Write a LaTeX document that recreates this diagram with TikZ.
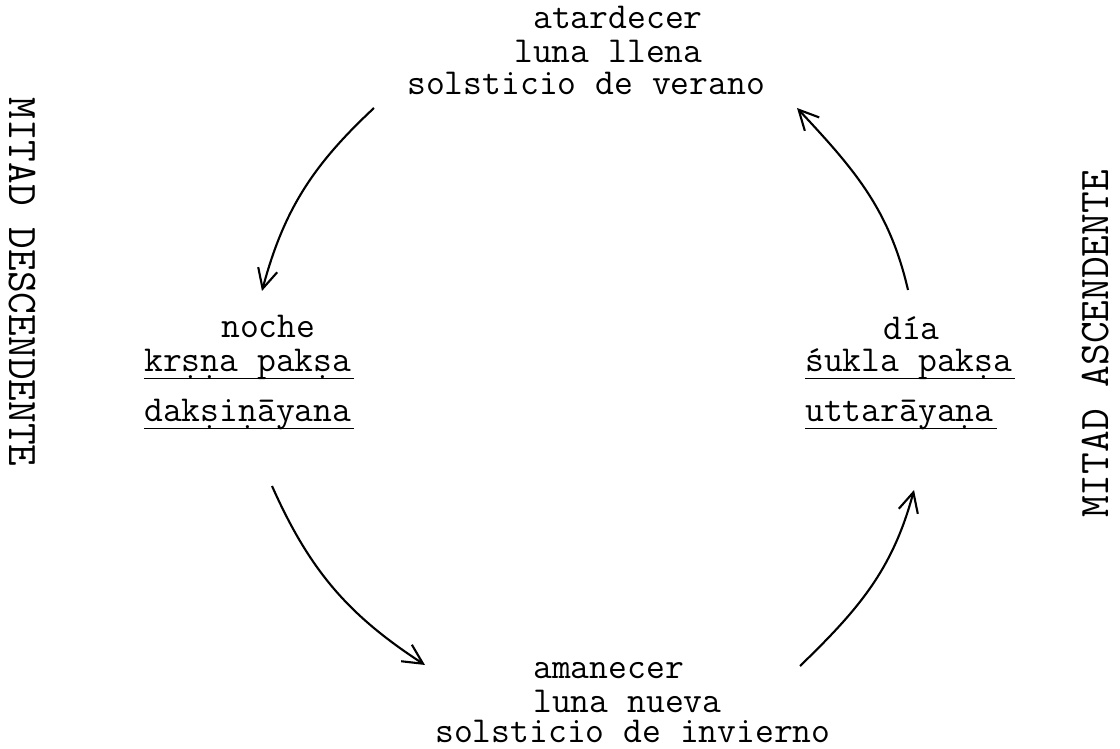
\documentclass[tikz,border=0pt]{standalone}
\usepackage{fontspec}
\usepackage{tikz}
\usetikzlibrary{arrows.meta}
\newcommand{\letramaq}{\ttfamily\fontsize{26}{30}\selectfont}
\newcommand{\letragrande}{\ttfamily\fontsize{30}{34}\selectfont}

\begin{document}
\begin{tikzpicture}[
  txt/.style={font=\letramaq, inner sep=0pt, anchor=base west},
  vert/.style={font=\letragrande, inner sep=0pt},
  subr/.style={line width=0.7pt},
  flecha/.style={line width=1.5pt, -{Straight Barb[length=14pt,width=14pt]}}]
\useasboundingbox (0,0) rectangle (28,18.7);
% arriba
\node[txt] (atardecer) at (13.325,17.975) {atardecer};
\node[txt] (llena) at (12.85,17.125) {luna llena};
\node[txt] (verano) at (10.175,16.325) {solsticio de verano};
% abajo
\node[txt] (amanecer) at (13.325,1.75) {amanecer};
\node[txt] (nueva) at (13.325,0.9) {luna nueva};
\node[txt] (invierno) at (10.875,0.15) {solsticio de invierno};
% izquierda
\node[txt] (noche) at (5.525,10.25) {noche};
\node[txt] (krsna) at (3.6,9.4) {krṣṇa pakṣa};
\node[txt] (daksina) at (3.6,8.15) {dakṣiṇāyana};
\draw[subr] ([yshift=-4.3pt]krsna.base west) -- ([yshift=-4.3pt,xshift=2pt]krsna.base east);
\draw[subr] ([yshift=-4.3pt]daksina.base west) -- ([yshift=-4.3pt,xshift=2pt]daksina.base east);
% derecha
\node[txt] (dia) at (22.075,10.2) {día};
\node[txt] (sukla) at (20.125,9.4) {śukla pakṣa};
\node[txt] (uttara) at (20.125,8.15) {uttarāyaṇa};
\draw[subr] ([yshift=-4.3pt]sukla.base west) -- ([yshift=-4.3pt,xshift=2pt]sukla.base east);
\draw[subr] ([yshift=-4.3pt]uttara.base west) -- ([yshift=-4.3pt,xshift=2pt]uttara.base east);
% mitades
\node[vert,rotate=-90] (desc) at (0.55,11.65) {MITAD DESCENDENTE};
\node[vert,rotate=90] (asc) at (27.4,10.1) {MITAD ASCENDENTE};
% flechas
\coordinate (a1) at (9.35,16.0);
\coordinate (b1) at (6.55,11.425);
\coordinate (a2) at (6.8,6.55);
\coordinate (b2) at (10.625,2.075);
\coordinate (a3) at (20.0,2.05);
\coordinate (b3) at (22.85,6.45);
\coordinate (a4) at (22.7,11.45);
\coordinate (b4) at (19.925,16.0);
\draw[flecha] (a1) to[out=223,in=75] (b1);
\draw[flecha] (a2) to[out=294,in=147] (b2);
\draw[flecha] (a3) to[out=44,in=255] (b3);
\draw[flecha] (a4) to[out=103,in=313] (b4);
\end{tikzpicture}
\end{document}
